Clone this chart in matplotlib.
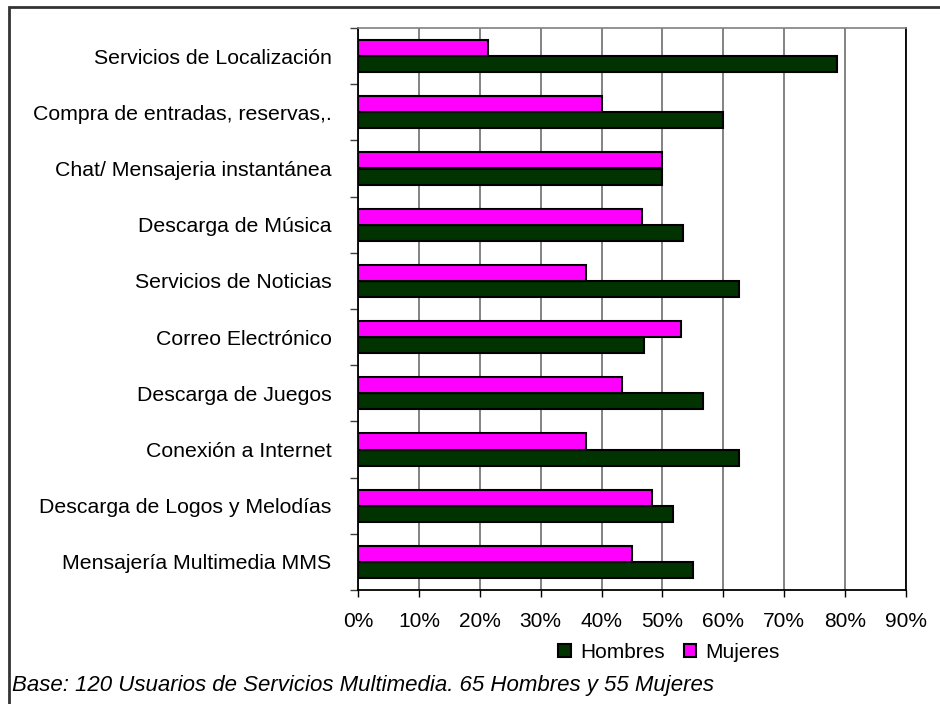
import matplotlib
matplotlib.use("Agg")
import matplotlib.pyplot as plt
import numpy as np
from matplotlib.patches import Rectangle
from matplotlib.ticker import FixedLocator, FuncFormatter

plt.rcParams['font.family'] = ['Liberation Sans', 'DejaVu Sans']

categories = [
    "Servicios de Localización",
    "Compra de entradas, reservas,.",
    "Chat/ Mensajeria instantánea",
    "Descarga de Música",
    "Servicios de Noticias",
    "Correo Electrónico",
    "Descarga de Juegos",
    "Conexión a Internet",
    "Descarga de Logos y Melodías",
    "Mensajería Multimedia MMS",
]
hombres = [78.6, 60.0, 50.0, 53.3, 62.5, 47.0, 56.6, 62.5, 51.7, 55.0]
mujeres = [21.4, 40.0, 50.0, 46.7, 37.5, 53.0, 43.4, 37.5, 48.3, 45.0]
x_ticks = [0, 10, 20, 30, 40, 50, 60, 70, 80, 90]
series_names = ["Hombres", "Mujeres"]
footer = "Base: 120 Usuarios de Servicios Multimedia. 65 Hombres y 55 Mujeres"

GREEN = "#003300"
MAGENTA = "#FF00FF"
W, H = 940, 704

fig = plt.figure(figsize=(W / 100, H / 100), dpi=100)
ax = fig.add_axes([358 / W, 1 - 590 / H, (906 - 358) / W, (590 - 28) / H])

n = len(categories)
y = np.arange(n)
h = 0.285
bh = ax.barh(y + h / 2, hombres, h, color=GREEN, edgecolor="black", linewidth=1.5,
             label=series_names[0], zorder=3)
bm = ax.barh(y - h / 2, mujeres, h, color=MAGENTA, edgecolor="black", linewidth=1.5,
             label=series_names[1], zorder=3)

ax.set_xlim(0, 90)
ax.set_ylim(n - 0.5, -0.5)

ax.xaxis.set_major_locator(FixedLocator(x_ticks))
ax.xaxis.set_major_formatter(FuncFormatter(lambda v, p: f"{v:.0f}%"))
ax.tick_params(axis="x", direction="out", length=5, width=1, pad=11,
               labelsize=15, colors="black")
ax.grid(axis="x", color="#606060", linewidth=1.1, zorder=0)

ax.set_yticks(y)
ax.set_yticklabels(categories)
ax.tick_params(axis="y", which="major", length=0, pad=19, labelsize=15.3)
ax.set_yticks(np.arange(n + 1) - 0.5, minor=True)
ax.tick_params(axis="y", which="minor", direction="out", length=6, width=1,
               color="#404040")

for s in ("left", "bottom"):
    ax.spines[s].set_color("black")
    ax.spines[s].set_linewidth(1.3)
ax.spines["top"].set_color("#808080")
ax.spines["top"].set_linewidth(1.2)
ax.spines["right"].set_color("black")
ax.spines["right"].set_linewidth(1.3)

leg = fig.legend(handles=[bh, bm], labels=series_names, loc="center",
                 bbox_to_anchor=(669 / W, 1 - 652 / H), ncol=2, frameon=False,
                 fontsize=15, handlelength=0.6, handleheight=0.6,
                 handletextpad=0.45, columnspacing=0.9)

fig.text(12 / W, 1 - 686 / H, footer, fontsize=16, style="italic",
         ha="left", va="center")

# outer chart frame
fig.patches.append(Rectangle((9 / W, -0.05), 1.0, 1 - 7 / H + 0.05,
                             transform=fig.transFigure, fill=False,
                             edgecolor="#333333", linewidth=2.0))

fig.savefig("out.png", dpi=100)
